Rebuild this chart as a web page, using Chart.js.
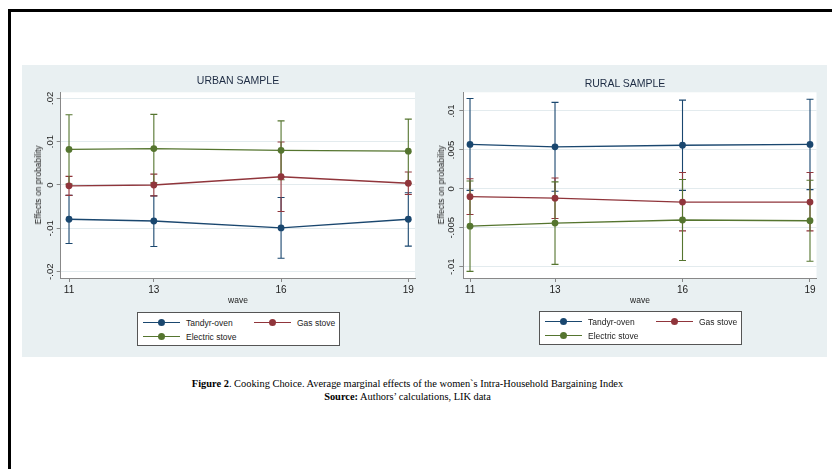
<!DOCTYPE html>
<html>
<head>
<meta charset="utf-8">
<script src="https://cdn.jsdelivr.net/npm/chart.js@4.4.1/dist/chart.umd.min.js"></script>
<style>
  body { margin: 0; width: 832px; height: 469px; overflow: hidden; background: #fff; position: relative; font-family: "Liberation Sans", Arial, sans-serif; }
  #frame { position: absolute; left: 8px; top: 9px; width: 900px; height: 600px; border: 3px solid #000; box-sizing: border-box; }
  #panel { position: absolute; left: 22px; top: 65px; width: 805px; height: 292px; background: #e9f0f2; }
  canvas { position: absolute; }
  .lbl { position: absolute; white-space: nowrap; transform: translate(-50%, -50%); color: #222; }
  .title { font-size: 10.5px; color: #1e2c44; }
  .ytitle { font-size: 8.5px; transform: translate(-50%, -50%) rotate(-90deg); }
  .xtitle { font-size: 8.5px; }
  .legend { position: absolute; background: #fff; border: 1px solid #555; box-sizing: border-box; }
  .legend .ln { position: absolute; height: 1.4px; }
  .legend .mk { position: absolute; width: 7px; height: 7px; border-radius: 50%; }
  .legend .tx { position: absolute; font-size: 8.5px; color: #222; transform: translateY(-50%); white-space: nowrap; }
  .caption { position: absolute; left: 407.5px; font-family: "Liberation Serif", "Times New Roman", serif; font-size: 10.4px; color: #000; white-space: nowrap; transform: translate(-50%, -50%); }
</style>
</head>
<body>
<div id="frame"></div>
<div id="panel"></div>
<canvas id="urbanChart" width="402" height="292" style="left:22px;top:65px"></canvas>
<canvas id="ruralChart" width="403" height="292" style="left:424px;top:65px"></canvas>

<div class="lbl title" style="left:238px;top:80px">URBAN SAMPLE</div>
<div class="lbl title" style="left:625px;top:83px">RURAL SAMPLE</div>
<div class="lbl ytitle" style="left:38px;top:185px">Effects on probability</div>
<div class="lbl ytitle" style="left:441px;top:185px">Effects on probability</div>
<div class="lbl xtitle" style="left:238px;top:300px">wave</div>
<div class="lbl xtitle" style="left:640px;top:300px">wave</div>

<div class="legend" id="urbanLegend" style="left:137px;top:312px;width:203px;height:34px"></div>
<div class="legend" id="ruralLegend" style="left:539px;top:311px;width:203px;height:34px"></div>

<div class="caption" style="top:383px"><b>Figure 2</b>. Cooking Choice. Average marginal effects of the women`s Intra-Household Bargaining Index</div>
<div class="caption" style="top:395.5px"><b>Source:</b> Authors’ calculations, LIK data</div>

<script>
// survey waves on the x axis
const waves = [11, 13, 16, 19];
const seriesNames = ['Tandyr-oven', 'Gas stove', 'Electric stove'];
const seriesColors = ['#1a476f', '#90353b', '#55752f'];

// URBAN SAMPLE: point estimates and 95% CI bounds
const urbanTandyr   = [-0.0079, -0.0083, -0.0099, -0.0079];
const urbanTandyrLo = [-0.0135, -0.0142, -0.0169, -0.0141];
const urbanTandyrHi = [-0.0024, -0.0025, -0.0029, -0.0018];
const urbanGas      = [-0.0002, 0.0000, 0.0019, 0.0004];
const urbanGasLo    = [-0.0024, -0.0025, -0.0061, -0.0022];
const urbanGasHi    = [0.0020, 0.0025, 0.0099, 0.0030];
const urbanElec     = [0.0082, 0.0084, 0.0080, 0.0078];
const urbanElecLo   = [0.0002, 0.0005, 0.0012, 0.0004];
const urbanElecHi   = [0.0162, 0.0163, 0.0148, 0.0152];

// RURAL SAMPLE
const ruralTandyr   = [0.0057, 0.0054, 0.0056, 0.0057];
const ruralTandyrLo = [-0.0002, -0.0003, -0.0002, -0.0001];
const ruralTandyrHi = [0.0116, 0.0111, 0.0114, 0.0115];
const ruralGas      = [-0.0010, -0.0012, -0.0017, -0.0017];
const ruralGasLo    = [-0.0033, -0.0038, -0.0054, -0.0054];
const ruralGasHi    = [0.0013, 0.0014, 0.0021, 0.0021];
const ruralElec     = [-0.0048, -0.0044, -0.0040, -0.0041];
const ruralElecLo   = [-0.0106, -0.0097, -0.0092, -0.0093];
const ruralElecHi   = [0.0010, 0.0009, 0.0012, 0.0011];

// y axis tick values and labels
const urbanYTicks  = [-0.02, -0.01, 0, 0.01, 0.02];
const urbanYLabels = ['-.02', '-.01', '0', '.01', '.02'];
const ruralYTicks  = [-0.01, -0.005, 0, 0.005, 0.01];
const ruralYLabels = ['-.01', '-.005', '0', '.005', '.01'];

// white plot region behind everything
const plotBg = {
    id: 'plotBg',
    beforeDraw(chart) {
        const a = chart.chartArea;
        chart.ctx.save();
        chart.ctx.fillStyle = '#fff';
        chart.ctx.fillRect(a.left, a.top, a.right - a.left, a.bottom - a.top);
        chart.ctx.restore();
    }
};

// capped CI bars, drawn before the lines
const errorBars = {
    id: 'errorBars',
    beforeDatasetsDraw(chart) {
        const ctx = chart.ctx;
        const x = chart.scales.x, y = chart.scales.y;
        chart.data.datasets.forEach(ds => {
            ctx.save();
            ctx.strokeStyle = ds.borderColor;
            ctx.lineWidth = 1.1;
            ds.data.forEach((p, i) => {
                const px = x.getPixelForValue(p.x);
                const lo = y.getPixelForValue(ds.lo[i]);
                const hi = y.getPixelForValue(ds.hi[i]);
                ctx.beginPath();
                ctx.moveTo(px, lo); ctx.lineTo(px, hi);
                ctx.moveTo(px - 3.5, lo); ctx.lineTo(px + 3.5, lo);
                ctx.moveTo(px - 3.5, hi); ctx.lineTo(px + 3.5, hi);
                ctx.stroke();
            });
            ctx.restore();
        });
    }
};

// Stata style vertical y tick labels
const yLabels = {
    id: 'yLabels',
    afterDraw(chart, args, opts) {
        const ctx = chart.ctx;
        const y = chart.scales.y;
        ctx.save();
        ctx.fillStyle = '#222';
        ctx.font = '9.5px "Liberation Sans", Arial, sans-serif';
        ctx.textAlign = 'center';
        ctx.textBaseline = 'middle';
        opts.values.forEach((v, i) => {
            ctx.save();
            ctx.translate(chart.chartArea.left - opts.offset, y.getPixelForValue(v));
            ctx.rotate(-Math.PI / 2);
            ctx.fillText(opts.labels[i], 0, 0);
            ctx.restore();
        });
        ctx.restore();
    }
};

function makeDatasets(vals, los, his) {
    return vals.map((v, k) => ({
        label: seriesNames[k],
        data: waves.map((w, i) => ({ x: w, y: v[i] })),
        lo: los[k],
        hi: his[k],
        borderColor: seriesColors[k],
        backgroundColor: seriesColors[k],
        pointBackgroundColor: seriesColors[k],
        pointBorderWidth: 0,
        pointRadius: 3.4,
        borderWidth: 1.3,
        tension: 0
    }));
}

function makeChart(id, s) {
    const config = {
        type: 'line',
        data: { datasets: makeDatasets(s.vals, s.los, s.his) },
        options: {
            responsive: false,
            animation: false,
            devicePixelRatio: 1,
            layout: { padding: { left: 0, top: 27.3, right: s.padRight, bottom: 59 } },
            plugins: {
                legend: { display: false },
                title: { display: false },
                tooltip: { enabled: false },
                yLabels: { values: s.yTicks, labels: s.yLabels, offset: s.labelOffset }
            },
            scales: {
                x: {
                    type: 'linear',
                    min: s.xMin,
                    max: s.xMax,
                    afterBuildTicks: sc => { sc.ticks = waves.map(v => ({ value: v })); },
                    afterFit: sc => { sc.height = 20; },
                    ticks: {
                        autoSkip: false,
                        maxRotation: 0,
                        padding: 2,
                        color: '#222',
                        font: { family: '"Liberation Sans", Arial, sans-serif', size: 10 },
                        callback: v => String(v)
                    },
                    grid: { drawOnChartArea: false, drawTicks: true, tickLength: 4, tickColor: '#888' },
                    border: { color: '#888', width: 1 }
                },
                y: {
                    type: 'linear',
                    min: s.yMin,
                    max: s.yMax,
                    afterBuildTicks: sc => { sc.ticks = s.yTicks.map(v => ({ value: v })); },
                    afterFit: sc => { sc.width = s.yWidth; },
                    ticks: { display: false },
                    grid: { color: '#e3ebee', lineWidth: 1, drawTicks: true, tickLength: 4, tickColor: '#888' },
                    border: { color: '#888', width: 1 }
                }
            }
        },
        plugins: [plotBg, errorBars, yLabels]
    };
    return new Chart(document.getElementById(id).getContext('2d'), config);
}

makeChart('urbanChart', {
    vals: [urbanTandyr, urbanGas, urbanElec],
    los: [urbanTandyrLo, urbanGasLo, urbanElecLo],
    his: [urbanTandyrHi, urbanGasHi, urbanElecHi],
    xMin: 10.804, xMax: 19.158,
    yMin: -0.02145, yMax: 0.02138,
    yTicks: urbanYTicks, yLabels: urbanYLabels,
    yWidth: 38.7, padRight: 9, labelOffset: 10
});

makeChart('ruralChart', {
    vals: [ruralTandyr, ruralGas, ruralElec],
    los: [ruralTandyrLo, ruralGasLo, ruralElecLo],
    his: [ruralTandyrHi, ruralGasHi, ruralElecHi],
    xMin: 10.842, xMax: 19.153,
    yMin: -0.01145, yMax: 0.0124,
    yTicks: ruralYTicks, yLabels: ruralYLabels,
    yWidth: 39.3, padRight: 10.5, labelOffset: 12
});

// legends: two columns, third entry wraps to second row
function buildLegend(id) {
    const box = document.getElementById(id);
    const slots = [[4.5, 9.8], [115.5, 9.8], [4.5, 23.5]];
    seriesNames.forEach((name, k) => {
        const [lx, cy] = slots[k];
        const ln = document.createElement('div');
        ln.className = 'ln';
        ln.style.cssText = `left:${lx}px;top:${cy - 0.7}px;width:37px;background:${seriesColors[k]}`;
        const mk = document.createElement('div');
        mk.className = 'mk';
        mk.style.cssText = `left:${lx + 18.5 - 3.5}px;top:${cy - 3.5}px;background:${seriesColors[k]}`;
        const tx = document.createElement('div');
        tx.className = 'tx';
        tx.style.cssText = `left:${lx + 43.5}px;top:${cy}px`;
        tx.textContent = name;
        box.append(ln, mk, tx);
    });
}
buildLegend('urbanLegend');
buildLegend('ruralLegend');
</script>
</body>
</html>
